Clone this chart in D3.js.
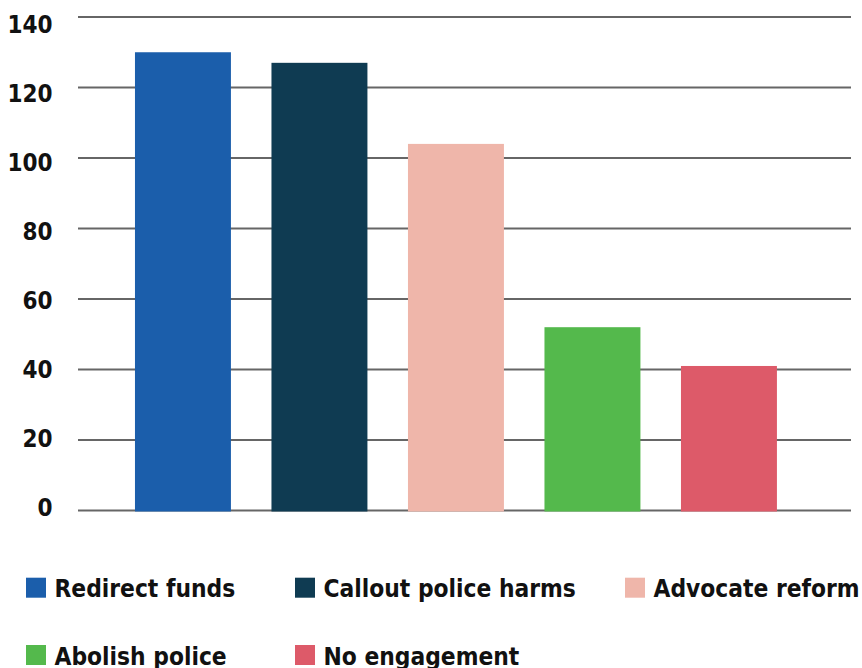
<!DOCTYPE html>
<html>
<head>
<meta charset="utf-8">
<script src="https://cdn.jsdelivr.net/npm/d3@7"></script>
<style>
  html, body { margin: 0; padding: 0; background: #ffffff; }
  svg { display: block; }
  text { font-family: "DejaVu Sans Condensed", "DejaVu Sans", sans-serif; font-weight: bold; fill: #111; }
</style>
</head>
<body>
<svg id="chart" width="862" height="668"></svg>
<script>
// Responses grouped by type of engagement
const categories = ["Redirect funds", "Callout police harms", "Advocate reform", "Abolish police", "No engagement"];
const counts = [130, 127, 104, 52, 41];
const colors = ["#1b5eab", "#0f3b52", "#efb6aa", "#54b94c", "#dd5a69"];
const yTicks = [0, 20, 40, 60, 80, 100, 120, 140];

const svg = d3.select("#chart");

const gridLeft = 78, gridRight = 851;
const y = d3.scaleLinear().domain([0, 140]).range([510.5, 17]);
// tick labels sit on a slightly tighter scale than the grid
const yLabel = d3.scaleLinear().domain([0, 140]).range([508, 24.5]);
const x = d3.scaleBand().domain(categories).range([114.7, 797.2])
  .paddingInner(0.297).paddingOuter(0.1485);
const color = d3.scaleOrdinal().domain(categories).range(colors);

// horizontal grid lines
svg.append("g")
  .selectAll("line")
  .data(yTicks)
  .join("line")
  .attr("x1", gridLeft)
  .attr("x2", gridRight)
  .attr("y1", d => y(d))
  .attr("y2", d => y(d))
  .attr("stroke", "#666")
  .attr("stroke-width", 2);

// y tick labels
svg.append("g")
  .selectAll("text")
  .data(yTicks)
  .join("text")
  .attr("x", 52.5)
  .attr("y", d => yLabel(d))
  .attr("text-anchor", "end")
  .attr("dominant-baseline", "central")
  .style("font-size", "24px")
  .text(d => d);

// bars
svg.append("g")
  .selectAll("rect")
  .data(categories.map((c, i) => ({ c, v: counts[i] })))
  .join("rect")
  .attr("x", d => x(d.c))
  .attr("width", x.bandwidth())
  .attr("y", d => y(d.v))
  .attr("height", d => y(0) - y(d.v) + 1)
  .attr("fill", d => color(d.c));

// legend
const legendCols = [26, 295, 625];
const legendRows = [577.7, 645];
const legend = svg.append("g")
  .selectAll("g")
  .data(categories)
  .join("g")
  .attr("transform", (d, i) => `translate(${legendCols[i % 3]},${legendRows[Math.floor(i / 3)]})`);

legend.append("rect")
  .attr("width", 20)
  .attr("height", 20)
  .attr("fill", d => color(d));

legend.append("text")
  .attr("x", 28.5)
  .attr("y", 19.5)
  .style("font-size", "24.3px")
  .text(d => d);
</script>
</body>
</html>
